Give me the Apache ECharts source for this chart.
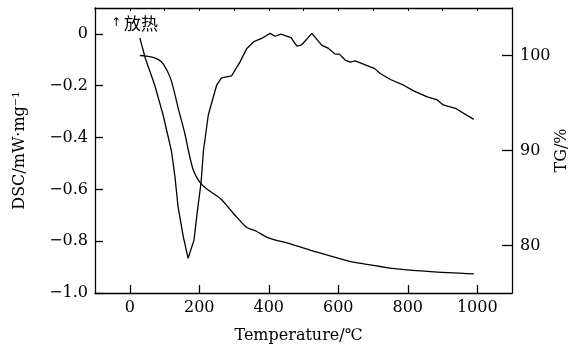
<!DOCTYPE html>
<html>
<head>
<meta charset="utf-8">
<script src="https://cdn.jsdelivr.net/npm/echarts@6/dist/echarts.min.js"></script>
<style>
  html, body { margin: 0; padding: 0; background: #fff; }
  #chart { width: 570px; height: 353px; }
</style>
</head>
<body>
<div id="chart"></div>
<script>
// DSC curve (left axis)
const dscTemp = [29, 45, 72, 96, 120, 130, 139, 154, 168, 185, 195, 205, 212, 226, 250, 264, 293, 317, 337, 356, 384, 404, 418, 435, 464, 481, 495, 524, 553, 572, 591, 603, 620, 635, 649, 692, 704, 721, 750, 788, 817, 856, 885, 902, 937, 990];
const dscValue = [-0.015, -0.095, -0.198, -0.313, -0.452, -0.551, -0.667, -0.782, -0.866, -0.795, -0.679, -0.577, -0.452, -0.313, -0.198, -0.170, -0.162, -0.109, -0.056, -0.031, -0.014, 0.002, -0.009, -0.001, -0.014, -0.047, -0.042, 0.002, -0.044, -0.056, -0.078, -0.078, -0.101, -0.109, -0.104, -0.127, -0.133, -0.153, -0.176, -0.198, -0.220, -0.243, -0.255, -0.274, -0.287, -0.330];

// TG curve (right axis)
const tgTemp = [29, 48, 72, 91, 106, 120, 139, 159, 168, 183, 202, 222, 262, 300, 335, 363, 399, 462, 539, 625, 673, 721, 769, 865, 990];
const tgValue = [100.0, 99.93, 99.76, 99.34, 98.53, 97.30, 94.51, 91.71, 90.13, 87.93, 86.65, 85.94, 84.89, 83.32, 81.95, 81.53, 80.80, 80.17, 79.30, 78.42, 78.07, 77.79, 77.54, 77.26, 77.02];

const xTicks = [0, 200, 400, 600, 800, 1000];
const xTopTicks = [0, 100, 200, 300, 400, 500, 600, 700, 800, 900, 1000];
const dscTicks = [-1.0, -0.8, -0.6, -0.4, -0.2, 0];
const tgTicks = [80, 90, 100];

const serif = 'DejaVu Serif';
const chart = echarts.init(document.getElementById('chart'));

function fmtDsc(v) {
  if (Math.abs(v) < 1e-9) return '0';
  return (v < 0 ? '\u2212' : '') + Math.abs(v).toFixed(1);
}

const lineStyle = { color: '#000', width: 1.3 };
const axisLine = { show: true, onZero: false, lineStyle: { color: '#000', width: 1.3 } };

chart.setOption({
  animation: false,
  backgroundColor: '#fff',
  grid: { left: 95, right: 58, top: 8, bottom: 60, outerBoundsMode: 'none' },
  xAxis: [
    {
      type: 'value',
      min: -100,
      max: 1100,
      name: 'Temperature/\u2103',
      nameLocation: 'middle',
      nameGap: 35,
      nameMoveOverlap: false,
      nameTextStyle: { fontFamily: serif, fontSize: 16, color: '#000', padding: [0, 10, 0, 0] },
      axisLine: axisLine,
      axisTick: { inside: true, length: 8, customValues: xTicks, lineStyle: { color: '#000', width: 1.3 } },
      axisLabel: { customValues: xTicks, formatter: v => String(v), fontFamily: serif, fontSize: 16, color: '#000', margin: 7 },
      splitLine: { show: false }
    },
    {
      type: 'value',
      position: 'top',
      min: -100,
      max: 1100,
      axisLine: axisLine,
      axisTick: { inside: true, length: 3, customValues: xTopTicks, lineStyle: { color: '#000', width: 1 } },
      axisLabel: { show: false },
      splitLine: { show: false }
    }
  ],
  yAxis: [
    {
      type: 'value',
      min: -1.0,
      max: 0.1,
      name: 'DSC/mW\u00B7mg\u207B\u00B9',
      nameLocation: 'middle',
      nameRotate: 90,
      nameGap: 67,
      nameMoveOverlap: false,
      nameTextStyle: { fontFamily: serif, fontSize: 16, color: '#000' },
      axisLine: axisLine,
      axisTick: { show: true, inside: true, length: 8, customValues: dscTicks, lineStyle: { color: '#000', width: 1.3 } },
      axisLabel: { customValues: dscTicks, formatter: fmtDsc, fontFamily: serif, fontSize: 16, color: '#000', margin: 7 },
      splitLine: { show: false }
    },
    {
      type: 'value',
      position: 'right',
      min: 75,
      max: 105,
      name: 'TG/%',
      nameLocation: 'middle',
      nameRotate: 90,
      nameGap: 42,
      nameMoveOverlap: false,
      nameTextStyle: { fontFamily: serif, fontSize: 16, color: '#000' },
      axisLine: axisLine,
      axisTick: { show: true, inside: true, length: 10, customValues: tgTicks, lineStyle: { color: '#000', width: 1.3 } },
      axisLabel: { customValues: tgTicks, fontFamily: serif, fontSize: 16, color: '#000', margin: 8 },
      splitLine: { show: false }
    }
  ],
  graphic: [
    {
      type: 'text',
      left: 111,
      top: 17,
      style: { text: '\u2191', fontFamily: 'DejaVu Sans', fontSize: 12, fill: '#000' }
    },
    {
      type: 'text',
      left: 124,
      top: 15,
      style: { text: '放热', fontFamily: 'Noto Sans CJK SC', fontSize: 17, fill: '#000' }
    }
  ],
  series: [
    {
      name: 'DSC',
      type: 'line',
      xAxisIndex: 0,
      yAxisIndex: 0,
      showSymbol: false,
      lineStyle: lineStyle,
      data: dscTemp.map((t, i) => [t, dscValue[i]])
    },
    {
      name: 'TG',
      type: 'line',
      xAxisIndex: 0,
      yAxisIndex: 1,
      showSymbol: false,
      smooth: 0.3,
      lineStyle: lineStyle,
      data: tgTemp.map((t, i) => [t, tgValue[i]])
    }
  ]
});
</script>
</body>
</html>
